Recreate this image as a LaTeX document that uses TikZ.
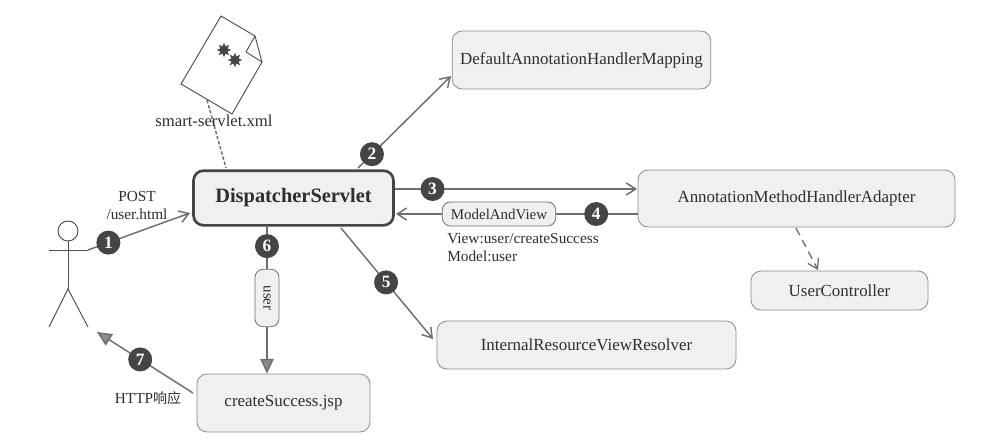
\documentclass[tikz,border=0pt]{standalone}
\usepackage{fontspec}
\setmainfont{Liberation Serif}
\newfontfamily\cjkfont{Noto Sans CJK SC}
\usetikzlibrary{arrows.meta,shapes.geometric}
\definecolor{linegray}{HTML}{6E6E6E}
\definecolor{boxgray}{HTML}{F0F0F0}
\definecolor{badgegray}{HTML}{454545}
\definecolor{textgray}{HTML}{2E2E2E}
\tikzset{
  boxnode/.style={draw=linegray!80,fill=boxgray,rounded corners=7.5pt,line width=0.6pt,inner sep=0.75pt,text=textgray,font=\fontsize{12.7}{15}\selectfont},
  pillnode/.style={draw=linegray,fill=boxgray,rounded corners=6pt,line width=0.6pt,inner sep=0.75pt,text=textgray,font=\fontsize{11.2}{13}\selectfont},
  labelnode/.style={inner sep=0.75pt,text=textgray,font=\fontsize{11.5}{13}\selectfont},
  badge/.style={circle,fill=badgegray,text=white,inner sep=0pt,minimum size=18pt,font=\fontsize{13}{13}\bfseries\selectfont},
  flow/.style={draw=linegray,line width=1.1pt,-{Straight Barb[length=7pt,width=9pt]}},
  flowplain/.style={draw=linegray,line width=1.1pt},
  flowfill/.style={draw=linegray,line width=1.1pt,-{Triangle[length=11pt,width=10pt,fill=linegray!80]}},
  stick/.style={draw=linegray!70!black,line width=0.7pt},
}
\begin{document}
\begin{tikzpicture}[x=0.75pt,y=0.75pt,yscale=-1,xscale=1]
\useasboundingbox (0,0) rectangle (995,439);

% Boxes
\draw (293.5,198) node (dispatcher) [boxnode,draw=badgegray,line width=2pt,minimum width=150pt,minimum height=41pt,font=\fontsize{15.3}{17}\bfseries\selectfont] {DispatcherServlet};
\draw (581.5,60) node (mapping) [boxnode,minimum width=194pt,minimum height=43.5pt] {DefaultAnnotationHandlerMapping};
\draw (796.5,198.5) node (adapter) [boxnode,minimum width=237.75pt,minimum height=42.75pt] {AnnotationMethodHandlerAdapter};
\draw (839.5,290.5) node (usercontroller) [boxnode,minimum width=132.75pt,minimum height=29.25pt] {UserController};
\draw (586.5,345) node (resolver) [boxnode,minimum width=224.25pt,minimum height=36pt] {InternalResourceViewResolver};
\draw (283.5,403) node (jsp) [boxnode,minimum width=129.75pt,minimum height=43.5pt] {createSuccess.jsp};
% Pills
\draw (499,214) node (modelview) [pillnode,minimum width=85pt,minimum height=18pt] {ModelAndView};
\draw (267,298) node (userpill) [pillnode,rotate=-90,minimum width=43pt,minimum height=18pt] {user};

% Document
\coordinate (doca) at (221,16);
\coordinate (docb) at (255,36);
\coordinate (docc) at (262,62);
\coordinate (docd) at (232,114);
\coordinate (doce) at (181,84);
\coordinate (docf) at (246,52);
\coordinate (docfoot) at (207,100);
\draw [stick] (doca) -- (docb) -- (docc) -- (docd) -- (doce) -- cycle;
\draw [stick] (docb) -- (docf) -- (docc);
\draw (224,50) node (stara) [star,star points=8,star point ratio=1.9,fill=badgegray,inner sep=0pt,minimum size=11pt] {};
\draw (235,60) node (starb) [star,star points=8,star point ratio=1.9,fill=badgegray,inner sep=0pt,minimum size=11pt] {};

% Actor
\draw (68,231) node (head) [circle,stick,inner sep=0pt,minimum size=15pt] {};
\coordinate (hip) at (68,289);
\coordinate (handl) at (49,250);
\coordinate (handr) at (88,250);
\coordinate (footl) at (49,327);
\coordinate (footr) at (88,327);
\draw [stick] (head) -- (hip);
\draw [stick] (handl) -- (handr);
\draw [stick] (footl) -- (hip) -- (footr);

% Connectors
\coordinate (in1) at (190,213);
\coordinate (out2) at (358,168);
\coordinate (in2) at (451,76);
\coordinate (out3) at (395,189);
\coordinate (in3) at (637,189);
\coordinate (out4) at (638,214);
\coordinate (in4) at (396,214);
\coordinate (out5) at (341,228);
\coordinate (in5) at (433,339);
\coordinate (out7) at (193,393);
\coordinate (in7) at (97,332);
\coordinate (dashout) at (796,228);
\coordinate (dashin) at (818,270);
\coordinate (dashtop) at (226,168);
\draw [flow] (handr) -- node [badge,pos=0.2] (one) {1} (in1);
\draw [flow] (out2) -- node [badge,pos=0.15] (two) {2} (in2);
\draw [flow] (out3) -- node [badge,pos=0.155] (three) {3} (in3);
\draw [flowplain] (out4) -- node [badge,pos=0.51] (four) {4} (modelview);
\draw [flow] (modelview) -- (in4);
\draw [flow] (out5) -- node [badge,pos=0.49] (five) {5} (in5);
\draw [flowplain] (dispatcher.south -| userpill) -- node [badge,pos=0.46] (six) {6} (userpill);
\draw [flowfill] (userpill) -- (jsp.north -| userpill);
\draw [flowfill] (out7) -- node [badge,pos=0.55] (seven) {7} (in7);
\draw [draw=linegray,line width=1.1pt,dash pattern=on 2.5pt off 1.5pt] (docfoot) -- (dashtop);
\draw [draw=linegray,line width=1pt,dash pattern=on 6pt off 4pt,-{Straight Barb[length=7pt,width=9pt]}] (dashout) -- (dashin);

% Text Node
\draw (214,121) node (xmllabel) [labelnode,font=\fontsize{12.5}{15}\selectfont] {smart-servlet.xml};
% Text Node
\draw (137,196) node (postlabel) [labelnode] {POST};
% Text Node
\draw (137,214) node (urllabel) [labelnode] {/user.html};
% Text Node
\draw (148,398) node (httplabel) [labelnode] {HTTP{\cjkfont\fontsize{10.5}{13}\selectfont 响应}};
% Text Node
\draw (446,239) node (viewlabel) [labelnode,anchor=west] {View:user/createSuccess};
% Text Node
\draw (446,256) node (modellabel) [labelnode,anchor=west] {Model:user};

\end{tikzpicture}
\end{document}
